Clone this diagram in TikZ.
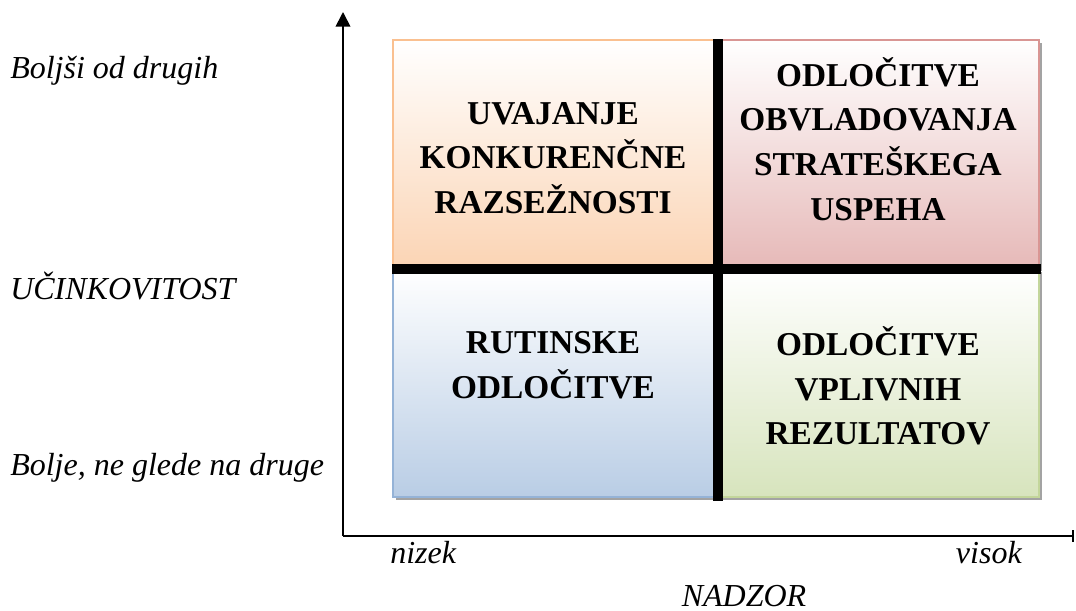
\documentclass[tikz,border=0pt]{standalone}
\usepackage{fontspec}
\setmainfont{Liberation Serif}
\usepackage{tikz}
\usepackage{xcolor}
\usetikzlibrary{positioning,arrows.meta,shadows,calc}

\definecolor{peachfill}{HTML}{FBD4B4}
\definecolor{peachline}{HTML}{FAC090}
\definecolor{rosefill}{HTML}{E6B9B8}
\definecolor{roseline}{HTML}{D99694}
\definecolor{bluefill}{HTML}{B9CDE5}
\definecolor{blueline}{HTML}{95B3D7}
\definecolor{greenfill}{HTML}{D7E4BD}
\definecolor{greenline}{HTML}{C3D69B}

\begin{document}
\begin{tikzpicture}[x=0.75pt, y=-0.75pt,
  quad/.style 2 args={
    rectangle, draw=#1, line width=1.5pt, top color=white, bottom color=#2,
    minimum width=241pt, minimum height=171pt, inner sep=0pt,
    drop shadow={shadow xshift=2.2pt, shadow yshift=-2.2pt, fill=black!45, opacity=0.8}
  },
  title/.style={
    align=center, font=\fontsize{25}{33.5}\selectfont\bfseries
  },
  axislabel/.style={
    inner sep=0pt, font=\fontsize{24}{28}\selectfont\itshape
  },
  cross/.style={
    line width=7.5pt, black
  },
  axis/.style={
    line width=1.3pt, black
  }
]
\useasboundingbox (0,0) rectangle (1076,611);

% Quadrants
\node[quad={peachline}{peachfill}] (tl) at (554,154) {};
\node[quad={roseline}{rosefill}] (tr) at (878,154) {};
\node[quad={blueline}{bluefill}] (bl) at (554,383) {};
\node[quad={greenline}{greenfill}] (br) at (878,383) {};

% Thick dividers
\draw[cross] (tl.north east) ++(2,0) -- ($(bl.south east)+(2,3)$);
\draw[cross] (tl.south west) -- ($(tr.south east)+(1,0)$);

% Quadrant titles
\node[title] (tltext) at (553,158) {UVAJANJE\\KONKURENČNE\\RAZSEŽNOSTI};
\node[title] (trtext) at (878,139) {ODLOČITVE\\OBVLADOVANJA\\STRATEŠKEGA\\USPEHA};
\node[title] (bltext) at (553,365) {RUTINSKE\\ODLOČITVE};
\node[title] (brtext) at (878,386) {ODLOČITVE\\VPLIVNIH\\REZULTATOV};

% Axes
\coordinate (origin) at (343,536);
\coordinate (ytip) at (343,12);
\coordinate (xend) at (1074,536);
\draw[axis, -{Triangle[length=11pt, width=11pt]}] (origin) -- (ytip);
\draw[axis, -{Bar[width=9pt, line width=1.5pt]}] (origin) -- (xend);

% Axis labels
\node[axislabel, anchor=base west] (best) at (10,78) {Boljši od drugih};
\node[axislabel, anchor=base west] (eff) at (10,299) {UČINKOVITOST};
\node[axislabel, anchor=base west] (better) at (10,475) {Bolje, ne glede na druge};
\node[axislabel, anchor=base west] (low) at (390,563) {nizek};
\node[axislabel, anchor=base east] (high) at (1022,563) {visok};
\node[axislabel, anchor=base] (ctrl) at (744,606) {NADZOR};

\end{tikzpicture}
\end{document}
